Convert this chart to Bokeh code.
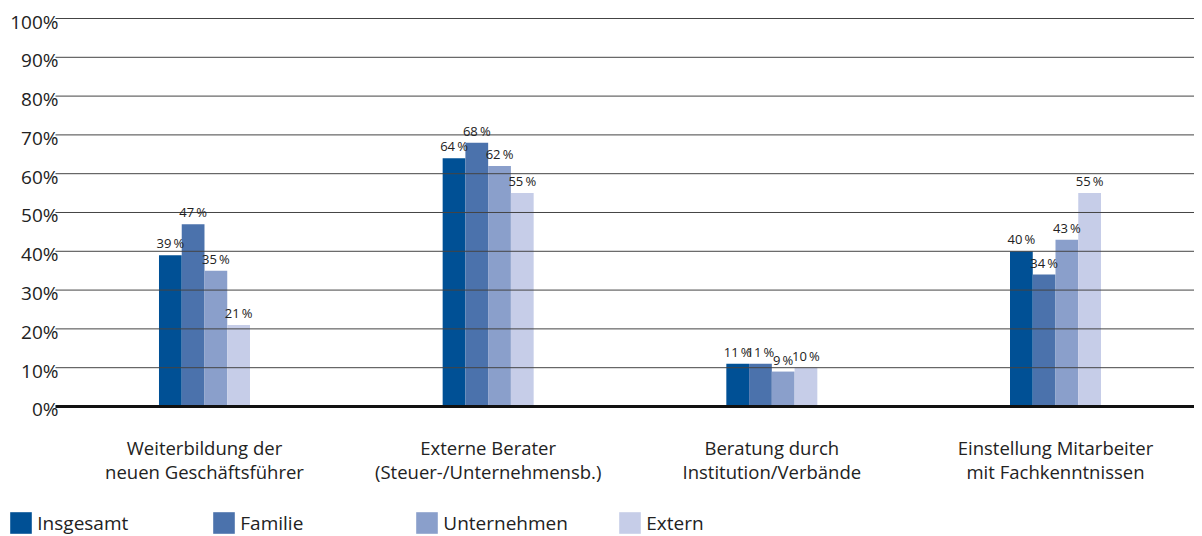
from bokeh.plotting import figure
from bokeh.models import (ColumnDataSource, Range1d, Legend, LegendItem, LabelSet)
from bokeh.core.properties import value
from bokeh.embed import file_html
from bokeh.resources import INLINE

categories = ["Weiterbildung der\nneuen Geschäftsführer",
              "Externe Berater\n(Steuer-/Unternehmensb.)",
              "Beratung durch\nInstitution/Verbände",
              "Einstellung Mitarbeiter\nmit Fachkenntnissen"]
series_names = ["Insgesamt", "Familie", "Unternehmen", "Extern"]
insgesamt = [39, 64, 11, 40]
familie = [47, 68, 11, 34]
unternehmen = [35, 62, 9, 43]
extern = [21, 55, 10, 55]
y_ticks = [0, 10, 20, 30, 40, 50, 60, 70, 80, 90, 100]
colors = ["#005095", "#4B72AC", "#8A9FCB", "#C6CDE8"]

FONT = "Open Sans"
TXT = "#222222"
centers = [i + 0.5 for i in range(len(categories))]
bar_w = 0.0802
X0, X1 = -0.2191, 3.990      # full figure width in data units
PLOT_LEFT = -0.0253          # where grid lines begin

p = figure(width=1194, height=536, output_backend="svg", toolbar_location=None,
           x_range=Range1d(X0, X1), y_range=Range1d(-33.51, 104.64),
           x_axis_location=None, y_axis_location=None,
           min_border_left=0, min_border_right=0, min_border_top=0, min_border_bottom=0)
p.outline_line_color = None
p.grid.visible = False

renderers = []
all_series = [insgesamt, familie, unternehmen, extern]
for k, (name, vals, col) in enumerate(zip(series_names, all_series, colors)):
    xs = [c + (k - 1.5) * bar_w for c in centers]
    src = ColumnDataSource(dict(x=xs, top=vals,
                                lab=[f"{v}\u2009%" for v in vals]))
    r = p.vbar(x="x", top="top", width=bar_w, source=src, fill_color=col, line_color=None)
    renderers.append(r)
    ls = LabelSet(x="x", y="top", text="lab", source=src, text_align="center",
                  text_baseline="bottom", y_offset=3, text_font_size="13px",
                  text_font=value(FONT), text_color=TXT)
    p.add_layout(ls)

# horizontal grid lines (drawn over the bars)
grid_src = ColumnDataSource(dict(y=y_ticks[1:], x0=[PLOT_LEFT] * (len(y_ticks) - 1),
                                 x1=[X1] * (len(y_ticks) - 1)))
p.segment(x0="x0", y0="y", x1="x1", y1="y", source=grid_src,
          line_color="#444444", line_width=1)
# baseline
p.segment(x0=[PLOT_LEFT], y0=[y_ticks[0]], x1=[X1], y1=[y_ticks[0]],
          line_color="#111111", line_width=3)

# y tick labels
ytl = ColumnDataSource(dict(x=[PLOT_LEFT] * len(y_ticks), y=y_ticks,
                            t=[f"{t}%" for t in y_ticks]))
p.text(x="x", y="y", text="t", source=ytl, text_align="right",
       text_baseline="middle", x_offset=3, y_offset=3,
       text_font=value(FONT), text_font_size="19px", text_color=TXT)

# category labels
cat_src = ColumnDataSource(dict(x=centers, y=[y_ticks[0]] * len(centers), t=categories))
p.text(x="x", y="y", text="t", source=cat_src, text_align="center",
       text_baseline="top", y_offset=29, text_line_height=0.95,
       text_font=value(FONT), text_font_size="18.5px", text_color=TXT)

legend = Legend(items=[LegendItem(label=n, renderers=[r]) for n, r in zip(series_names, renderers)],
                orientation="horizontal", location=(7.3, 0),
                glyph_width=27, glyph_height=27, label_standoff=3, label_width=173,
                spacing=0, padding=0, margin=0, border_line_color=None,
                background_fill_alpha=0, label_text_font=FONT,
                label_text_font_size="19px", label_text_color=TXT,
                label_height=27)
p.add_layout(legend, "center")

open("out.html", "w").write(file_html(p, INLINE))
